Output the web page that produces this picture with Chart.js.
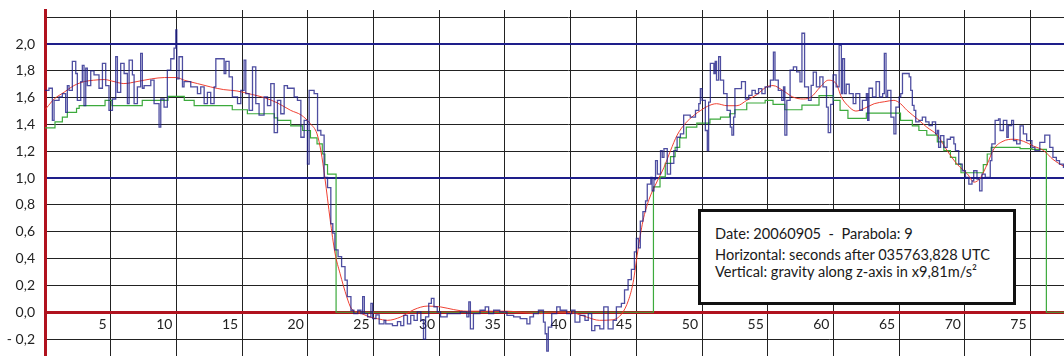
<!DOCTYPE html>
<html>
<head>
<meta charset="utf-8">
<script src="https://cdn.jsdelivr.net/npm/chart.js@4.4.0/dist/chart.umd.min.js"></script>
<style>
  body { margin: 0; background: #fff; }
  #wrap { position: relative; width: 1064px; height: 356px; overflow: hidden; }
  #grafico { position: absolute; left: 0; top: 0; }
  #info {
    position: absolute; left: 698px; top: 209px; width: 318px; height: 96px;
    box-sizing: border-box; border: 3px solid #111; background: #fff;
    font-family: Lato, "Open Sans", sans-serif; font-size: 14.6px; color: #1a1a1a;
  }
  #info div { position: absolute; left: 14px; line-height: 18px; white-space: pre; }
</style>
</head>
<body>
<div id="wrap">
  <!-- el lienzo es algo más ancho que la vista: el gráfico original está recortado a la derecha -->
  <canvas id="grafico" width="1090" height="356"></canvas>
  <div id="info">
    <div style="top:13px">Date: 20060905  -  Parabola: 9</div>
    <div style="top:34px">Horizontal: seconds after 035763,828 UTC</div>
    <div style="top:51px">Vertical: gravity along z-axis in x9,81m/s²</div>
  </div>
</div>
<script>
// ejes
const xMin = 0, xMax = 79.52;
const yMin = -0.326, yMax = 2.2535;
const lineasAzules = [1, 2];   // referencias de 1 g y 2 g
const lineaRoja = [0];         // 0 g

// medición cruda (azul): [segundos, g]
const medida = [
  [0, 1.655], [0.3, 1.67], [0.56, 1.43], [0.69, 1.58], [1.07, 1.605], [1.32, 1.63], [1.57, 1.49], [1.7, 1.69],
  [1.83, 1.655], [2.08, 1.87], [2.34, 1.78], [2.46, 1.58], [2.72, 1.72], [2.84, 1.84], [2.97, 1.54], [3.1, 1.82],
  [3.22, 1.69], [3.48, 1.80], [3.73, 1.77], [4.11, 1.67], [4.37, 1.855], [4.62, 1.69], [4.87, 1.505], [5.13, 1.59],
  [5.38, 1.905], [5.51, 1.64], [5.76, 1.855], [6.02, 1.78], [6.27, 1.555], [6.4, 1.88], [6.65, 1.77], [6.78, 1.555],
  [7.03, 1.68], [7.28, 1.93], [7.41, 1.67], [7.54, 1.69], [8.05, 1.73], [8.3, 1.555], [8.68, 1.38], [8.81, 1.59],
  [9.06, 1.53], [9.31, 1.805], [9.57, 1.89], [9.82, 1.97], [9.95, 2.105], [10.03, 1.74], [10.2, 1.905], [10.46, 1.68],
  [10.58, 1.72], [11.09, 1.68], [11.6, 1.63], [11.85, 1.68], [12.11, 1.555], [12.36, 1.64], [12.61, 1.555], [12.87, 1.68],
  [13.0, 1.89], [13.63, 1.78], [13.76, 1.87], [14.01, 1.755], [14.26, 1.605], [14.65, 1.555], [14.9, 1.655], [15.15, 1.88],
  [15.28, 1.63], [15.53, 1.505], [15.79, 1.83], [16.04, 1.555], [16.29, 1.47], [16.67, 1.605], [16.93, 1.54], [17.18, 1.705],
  [17.44, 1.34], [17.69, 1.58], [17.94, 1.48], [18.2, 1.69], [18.45, 1.67], [18.96, 1.605], [19.21, 1.58], [19.47, 1.305],
  [19.72, 1.43], [19.97, 1.105], [20.1, 1.655], [20.48, 1.63], [20.74, 1.355], [20.99, 1.32], [21.24, 1.005], [21.5, 0.93],
  [21.75, 0.66], [21.9, 0.59], [22.06, 0.465], [22.3, 0.415], [22.57, 0.34], [22.83, 0.24], [23.0, 0.116], [23.28, 0.015],
  [23.5, -0.01], [23.8, 0.015], [24.04, -0.01], [24.17, 0.116], [24.3, -0.01], [24.55, -0.035], [24.8, 0.066], [24.93, -0.048],
  [25.18, -0.02], [25.43, -0.086], [25.8, -0.06], [25.93, -0.086], [26.44, -0.1], [26.82, -0.07], [27.07, -0.1], [27.3, -0.023],
  [27.58, -0.086], [27.83, -0.023], [28.08, -0.06], [28.33, 0.003], [28.6, -0.06], [28.8, -0.2], [28.96, -0.035], [29.2, 0.066],
  [29.4, 0.104], [29.6, 0.04], [29.85, 0.003], [30.1, -0.035], [30.6, -0.01], [31.1, -0.01], [31.6, 0.003], [32.1, -0.035],
  [32.25, 0.078], [32.37, -0.124], [32.6, -0.01], [33.1, 0.015], [33.5, 0.04], [33.76, -0.01], [34.14, 0.015], [34.6, 0.003],
  [35.15, -0.023], [35.66, -0.035], [36.16, -0.048], [36.67, -0.086], [36.9, -0.035], [37.17, -0.01], [37.55, 0.015], [37.93, -0.073],
  [38.06, -0.16], [38.18, -0.29], [38.3, -0.11], [38.56, -0.01], [38.94, 0.04], [39.2, 0.015], [39.7, -0.01], [40.08, 0.015],
  [40.33, -0.073], [40.7, -0.023], [41.09, -0.06], [41.34, -0.01], [41.6, -0.137], [41.84, -0.1], [42.22, -0.124], [42.52, 0.04],
  [42.85, -0.124], [43.23, -0.06], [43.48, 0.04], [43.86, 0.066], [44.1, 0.167], [44.37, 0.243], [44.62, 0.32], [44.85, 0.45],
  [45.0, 0.55], [45.15, 0.48], [45.3, 0.68], [45.5, 0.75], [45.7, 0.83], [45.83, 0.955], [46.1, 1.005], [46.2, 0.905],
  [46.34, 0.99], [46.46, 1.13], [46.6, 1.03], [46.84, 1.205], [46.97, 1.155], [47.1, 1.22], [47.35, 1.03], [47.6, 1.11],
  [47.85, 1.205], [48.1, 1.305], [48.35, 1.33], [48.6, 1.47], [49.1, 1.455], [49.5, 1.505], [49.75, 1.555], [49.87, 1.667],
  [50.0, 1.58], [50.25, 1.355], [50.4, 1.205], [50.5, 1.567], [50.63, 1.855], [50.9, 1.78], [51.0, 1.87], [51.1, 1.73],
  [51.26, 1.905], [51.4, 1.73], [51.64, 1.63], [51.9, 1.505], [52.15, 1.38], [52.27, 1.32], [52.4, 1.455], [52.5, 1.667],
  [52.75, 1.667], [53.0, 1.72], [53.3, 1.59], [53.55, 1.617], [53.8, 1.655], [54.05, 1.63], [54.3, 1.667], [54.55, 1.63],
  [54.8, 1.68], [55.2, 1.73], [55.43, 1.94], [55.55, 1.73], [55.8, 1.655], [56.06, 1.58], [56.2, 1.68], [56.3, 1.32],
  [56.45, 1.58], [56.7, 1.805], [56.95, 1.83], [57.2, 1.792], [57.45, 1.717], [57.6, 2.08], [57.8, 1.68], [58.1, 1.58],
  [58.3, 1.692], [58.46, 1.79], [58.7, 1.68], [58.96, 1.755], [59.2, 1.68], [59.47, 1.53], [59.6, 1.34], [59.78, 1.55],
  [59.97, 1.77], [60.2, 1.68], [60.43, 1.99], [60.6, 1.63], [60.7, 1.89], [60.84, 1.63], [60.97, 1.70], [61.2, 1.63],
  [61.5, 1.555], [61.7, 1.63], [62.0, 1.505], [62.2, 1.58], [62.5, 1.63], [62.6, 1.43], [62.7, 1.67], [62.97, 1.605],
  [63.24, 1.72], [63.5, 1.605], [63.74, 1.63], [63.87, 1.93], [64.0, 1.605], [64.12, 1.655], [64.37, 1.455], [64.6, 1.33],
  [64.75, 1.53], [65.0, 1.605], [65.12, 1.63], [65.25, 1.78], [65.76, 1.755], [65.88, 1.655], [66.0, 1.542], [66.13, 1.505],
  [66.26, 1.42], [66.51, 1.43], [66.76, 1.455], [67.02, 1.42], [67.27, 1.392], [67.52, 1.42], [67.77, 1.33], [67.9, 1.355],
  [68.0, 1.23], [68.15, 1.317], [68.4, 1.23], [68.65, 1.29], [68.9, 1.305], [69.16, 1.255], [69.28, 1.205], [69.53, 1.105],
  [69.8, 1.055], [70.04, 1.005], [70.3, 0.955], [70.54, 0.98], [70.67, 1.055], [70.92, 0.992], [71.12, 0.905], [71.3, 1.03],
  [71.55, 1.005], [71.8, 1.005], [71.93, 1.13], [72.05, 1.255], [72.3, 1.43], [72.56, 1.442], [72.68, 1.355], [72.93, 1.43],
  [73.19, 1.305], [73.3, 1.392], [73.56, 1.43], [73.7, 1.28], [73.94, 1.255], [74.2, 1.39], [74.45, 1.33], [74.7, 1.28],
  [75.1, 1.23], [75.33, 1.205], [75.7, 1.267], [76.08, 1.32], [76.3, 1.32], [76.46, 1.23], [76.7, 1.155], [76.96, 1.13],
  [77.2, 1.105], [77.5, 1.08], [77.8, 1.08]
];

// media móvil (rojo)
const media = [
  [0, 1.51], [0.13, 1.525], [0.7, 1.59], [1.45, 1.64], [2.2, 1.69], [3.0, 1.72], [3.7, 1.73], [4.5, 1.735],
  [5.25, 1.72], [6.0, 1.705], [7.0, 1.72], [8.1, 1.74], [9.1, 1.75], [10.0, 1.75], [10.6, 1.73], [11.6, 1.705],
  [12.6, 1.68], [13.6, 1.66], [14.6, 1.65], [15.7, 1.625], [16.7, 1.60], [17.7, 1.56], [18.7, 1.505], [19.5, 1.47],
  [20.2, 1.405], [20.7, 1.33], [21.0, 1.2], [21.3, 1.0], [21.7, 0.69], [22.07, 0.44], [22.45, 0.29], [22.96, 0.116],
  [23.3, 0.03], [24.0, -0.005], [24.7, -0.035], [25.3, -0.048], [26.06, -0.06], [27.07, -0.035], [28.08, 0.02], [29.1, 0.046],
  [30.1, 0.04], [31.1, 0.02], [32.1, 0.008], [33.6, 0.008], [35.15, 0.008], [36.7, -0.005], [37.7, -0.01], [39.2, 0],
  [40.2, -0.005], [41.2, -0.035], [42.2, -0.06], [43.2, -0.056], [43.9, -0.01], [44.4, 0.09], [44.75, 0.22], [45.1, 0.45],
  [45.5, 0.68], [45.96, 0.84], [46.6, 0.98], [47.1, 1.08], [47.6, 1.205], [48.1, 1.32], [48.7, 1.405], [49.4, 1.47],
  [49.9, 1.505], [50.4, 1.535], [51.1, 1.555], [51.9, 1.54], [52.65, 1.54], [53.4, 1.58], [54.2, 1.625], [54.9, 1.68],
  [55.4, 1.69], [56.2, 1.65], [56.9, 1.605], [57.7, 1.59], [58.3, 1.605], [59.0, 1.68], [59.6, 1.73], [60.2, 1.705],
  [60.6, 1.605], [61.1, 1.54], [61.7, 1.50], [62.35, 1.52], [63.1, 1.555], [63.9, 1.57], [64.6, 1.58], [65.1, 1.555],
  [65.6, 1.505], [66.4, 1.44], [67.1, 1.38], [67.9, 1.32], [68.65, 1.205], [69.4, 1.105], [70.2, 1.03], [70.7, 0.97],
  [71.2, 1.005], [71.7, 1.105], [72.2, 1.217], [72.9, 1.275], [73.7, 1.29], [74.45, 1.275], [75.2, 1.24], [76.0, 1.205],
  [76.7, 1.14], [77.5, 1.09], [78, 1.07]
];

// valor escalonado (verde): cada nivel vale desde su x hasta el siguiente
const escalon = [
  [0, 1.375], [0.76, 1.42], [1.32, 1.455], [1.7, 1.49], [2.4, 1.52], [2.6, 1.54], [4.57, 1.58], [5.1, 1.54],
  [7.4, 1.58], [9.36, 1.61], [10.6, 1.58], [11.35, 1.54], [14.25, 1.51], [15.4, 1.48], [17.45, 1.45], [17.7, 1.43],
  [18.7, 1.39], [19.6, 1.355], [20.2, 1.3], [20.7, 1.255], [21.1, 1.18], [21.3, 1.1], [21.5, 1.03], [22.15, 0],
  [46.3, 0.935], [46.8, 1.01], [47.2, 1.11], [47.6, 1.16], [47.95, 1.23], [48.3, 1.30], [48.8, 1.38], [49.6, 1.41],
  [50.6, 1.44], [51.4, 1.455], [52.1, 1.48], [52.5, 1.51], [53.4, 1.56], [54.8, 1.58], [55.4, 1.55], [56.3, 1.51],
  [57.6, 1.545], [58.9, 1.615], [60.0, 1.58], [60.5, 1.505], [61.1, 1.445], [62.5, 1.485], [65.1, 1.43], [66.0, 1.39],
  [66.5, 1.355], [67.1, 1.32], [67.9, 1.27], [68.4, 1.205], [68.9, 1.155], [69.3, 1.105], [69.7, 1.04], [71.4, 1.1],
  [71.7, 1.18], [72.0, 1.23], [74.2, 1.22], [75.1, 1.215], [76.2, 0], [78, 0]
];

const aPuntos = arr => arr.map(p => ({ x: p[0], y: p[1] }));

function etiquetaY(v) {
    const r = Math.round(v * 10) / 10;
    if (r > 2.1) return '';
    const s = Math.abs(r).toFixed(1).replace('.', ',');
    return r < 0 ? '- ' + s : s;
}

// quitar el relleno que Chart.js reserva para las etiquetas de los extremos
function sinRelleno(scale) {
    scale.paddingTop = 0;
    scale.paddingBottom = 0;
    scale.paddingLeft = 0;
    scale.paddingRight = 0;
}

// ejes auxiliares sólo para dibujar las líneas de referencia de color
function ejeReferencia(valores, color, ancho) {
    return {
        type: 'linear',
        position: 'left',
        min: yMin,
        max: yMax,
        afterBuildTicks: scale => { scale.ticks = valores.map(v => ({ value: v })); },
        afterFit: scale => { scale.width = 0; sinRelleno(scale); },
        border: { display: false },
        grid: { color: color, lineWidth: ancho, drawTicks: false },
        ticks: { display: false }
    };
}

const ctx = document.getElementById('grafico').getContext('2d');

new Chart(ctx, {
    type: 'line',
    data: {
        datasets: [
            {
                label: 'medida',
                data: aPuntos(medida),
                borderColor: 'rgba(28, 28, 135, 0.78)',
                borderWidth: 1.3,
                stepped: true,
                pointRadius: 0
            },
            {
                label: 'media',
                data: aPuntos(media),
                borderColor: 'rgba(238, 55, 40, 0.95)',
                borderWidth: 1,
                cubicInterpolationMode: 'monotone',
                pointRadius: 0
            },
            {
                label: 'escalon',
                data: aPuntos(escalon),
                borderColor: 'rgb(60, 170, 60)',
                borderWidth: 1.2,
                stepped: true,
                pointRadius: 0
            }
        ]
    },
    options: {
        responsive: false,
        animation: false,
        layout: { padding: { left: 0, right: 0, top: 10, bottom: 0 } },
        plugins: { legend: { display: false }, tooltip: { enabled: false } },
        scales: {
            x: {
                type: 'linear',
                position: { y: 0 },
                min: xMin,
                max: xMax,
                afterFit: sinRelleno,
                border: { display: false },
                grid: { drawTicks: false, lineWidth: 1, color: '#222' },
                ticks: {
                    stepSize: 5,
                    includeBounds: false,
                    autoSkip: false,
                    maxRotation: 0,
                    align: 'end',
                    labelOffset: -4,
                    padding: 4,
                    color: '#222',
                    font: { family: 'Lato', size: 14 },
                    callback: v => (v === 0 ? '' : String(v))
                }
            },
            y: {
                type: 'linear',
                min: yMin,
                max: yMax,
                afterFit: scale => { scale.width = 45; sinRelleno(scale); },
                border: { color: '#b0121e', width: 3 },
                grid: { drawTicks: false, color: '#222', lineWidth: 1 },
                ticks: {
                    stepSize: 0.2,
                    includeBounds: false,
                    padding: 10,
                    color: '#222',
                    font: { family: 'Lato', size: 14 },
                    callback: etiquetaY
                }
            },
            yAzul: ejeReferencia(lineasAzules, '#1e1e8a', 2),
            yRojo: ejeReferencia(lineaRoja, '#b0121e', 3)
        }
    }
});
</script>
</body>
</html>
